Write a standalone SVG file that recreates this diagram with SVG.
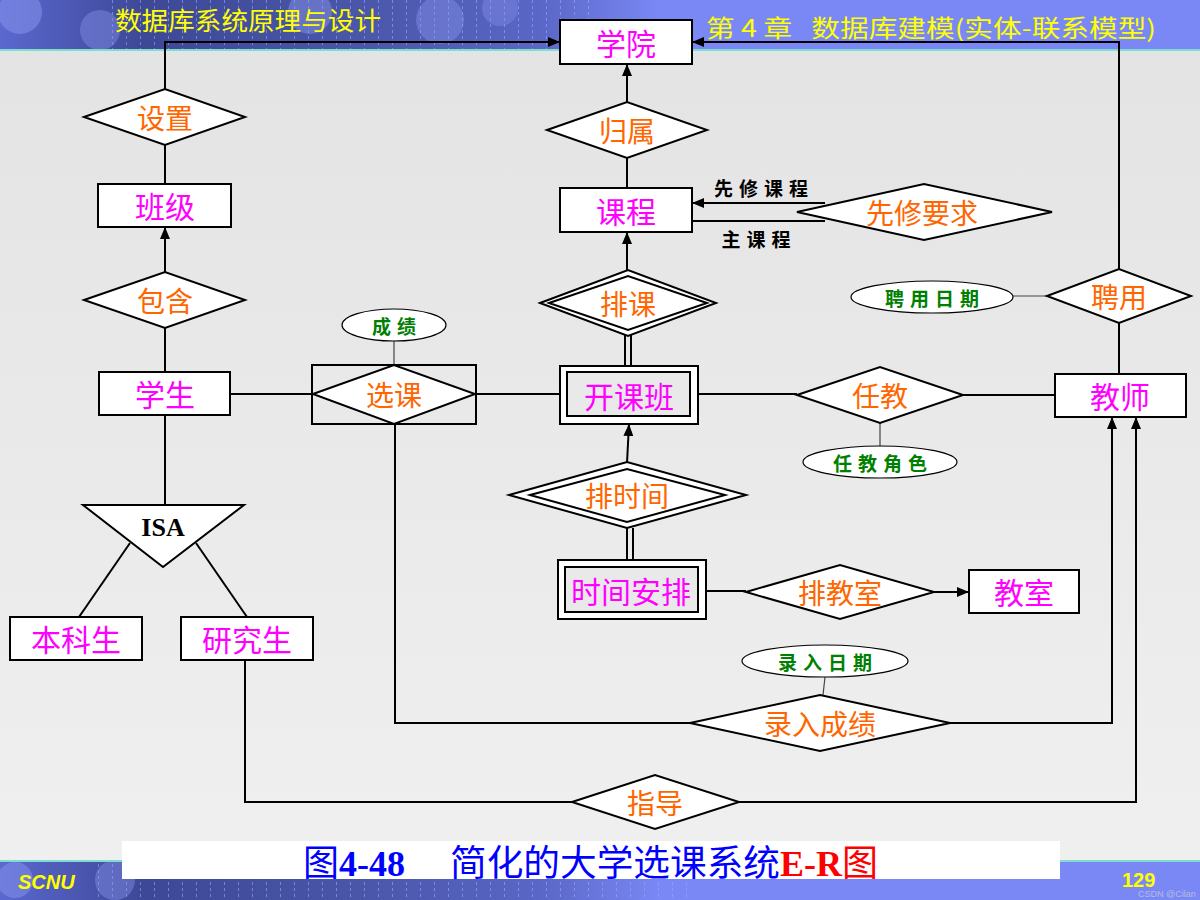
<svg xmlns="http://www.w3.org/2000/svg" width="1200" height="900" viewBox="0 0 1200 900">
<defs>
  <linearGradient id="bg" x1="0" y1="0" x2="0" y2="1">
    <stop offset="0" stop-color="#e3e3e3"/>
    <stop offset="1" stop-color="#f0f0f0"/>
  </linearGradient>
  <linearGradient id="band" x1="0" y1="0" x2="1" y2="0">
    <stop offset="0" stop-color="#5b68cf"/>
    <stop offset="0.12" stop-color="#3d4896"/>
    <stop offset="0.3" stop-color="#4a56a8"/>
    <stop offset="0.45" stop-color="#5a67c6"/>
    <stop offset="0.55" stop-color="#7a88f6"/>
    <stop offset="1" stop-color="#7a88f6"/>
  </linearGradient>
  <marker id="arr" viewBox="0 0 12 10" refX="12" refY="5" markerWidth="12" markerHeight="10" markerUnits="userSpaceOnUse" orient="auto">
    <path d="M0,0 L12,5 L0,10 z" fill="#000"/>
  </marker>
  <pattern id="dash" width="14" height="6" patternUnits="userSpaceOnUse">
    <rect x="0" y="0" width="1" height="3" fill="#9aa6ff" opacity="0.6"/>
  </pattern>
</defs>
<style>
  .ent { fill: #fff; stroke: #000; stroke-width: 2; }
  .ent2 { fill: #e9e9e9; stroke: #000; stroke-width: 2; }
  .rel { fill: #fff; stroke: #000; stroke-width: 2; }
  .att { fill: #fff; stroke: #000; stroke-width: 1.2; }
  .et { font-family: "Noto Sans CJK SC", sans-serif; font-size: 30px; fill: #ff00ff; text-anchor: middle; dominant-baseline: central; }
  .rt { font-family: "Noto Sans CJK SC", sans-serif; font-size: 28px; fill: #ff6600; text-anchor: middle; dominant-baseline: central; }
  .at { font-family: "Noto Sans CJK SC", sans-serif; font-size: 19px; font-weight: bold; fill: #008000; text-anchor: middle; dominant-baseline: central; letter-spacing: 6px; }
  .lt { font-family: "Noto Sans CJK SC", sans-serif; font-size: 19px; font-weight: bold; fill: #000; text-anchor: middle; dominant-baseline: central; letter-spacing: 6px; }
  .ln { fill: none; stroke: #000; stroke-width: 2; }
  .thin { fill: none; stroke: #444; stroke-width: 1.2; }
  .hd { font-family: "Noto Sans CJK SC", sans-serif; fill: #ffff00; }
</style>

<!-- background -->
<rect x="0" y="0" width="1200" height="900" fill="url(#bg)"/>

<!-- header band -->
<g id="header">
  <rect x="0" y="0" width="1200" height="50" fill="url(#band)"/>
  <rect x="100" y="0" width="500" height="50" fill="url(#dash)"/>
  <circle cx="20" cy="12" r="22" fill="#8c98f0" opacity="0.5"/>
  <circle cx="100" cy="30" r="20" fill="#8c98f0" opacity="0.4"/>
  <circle cx="310" cy="12" r="22" fill="#8c98f0" opacity="0.45"/>
  <circle cx="440" cy="20" r="24" fill="#8c98f0" opacity="0.4"/>
  <circle cx="500" cy="8" r="18" fill="#8c98f0" opacity="0.35"/>
  <rect x="0" y="49" width="1200" height="2" fill="#7fdcd0"/>
  <text class="hd" x="115" y="30" font-size="25" textLength="266" lengthAdjust="spacingAndGlyphs">数据库系统原理与设计</text>
  <text class="hd" x="706" y="37" font-size="24" textLength="450" lengthAdjust="spacingAndGlyphs" xml:space="preserve">第 4 章   数据库建模(实体-联系模型)</text>
</g>

<!-- footer band -->
<g id="footer">
  <rect x="0" y="861" width="1200" height="39" fill="url(#band)"/>
  <rect x="90" y="861" width="600" height="39" fill="url(#dash)"/>
  <circle cx="15" cy="880" r="18" fill="#8c98f0" opacity="0.45"/>
  <circle cx="115" cy="880" r="20" fill="#8c98f0" opacity="0.4"/>
  <rect x="0" y="860" width="1200" height="2" fill="#7fdcd0"/>
  <text x="18" y="889" font-family="Liberation Sans, sans-serif" font-size="20" font-weight="bold" font-style="italic" fill="#ffff00">SCNU</text>
  <text x="1122" y="887" font-family="Liberation Sans, sans-serif" font-size="20" font-weight="bold" fill="#ffff00">129</text>
  <text x="1138" y="897" font-family="Liberation Sans, sans-serif" font-size="9" fill="#c8c8d8" opacity="0.8">CSDN @Cilan</text>
</g>

<!-- caption -->
<g id="caption">
  <rect x="122" y="841" width="938" height="38" fill="#fff"/>
  <text x="303" y="876" font-size="36"><tspan font-family="Noto Sans CJK SC, sans-serif" fill="#0000ff">图</tspan><tspan font-family="Liberation Serif, serif" font-weight="bold" fill="#0000ff">4-48</tspan><tspan font-family="Noto Sans CJK SC, sans-serif" fill="#0000ff" x="450" textLength="330" lengthAdjust="spacingAndGlyphs">简化的大学选课系统</tspan><tspan font-family="Liberation Serif, serif" font-weight="bold" fill="#ff0000">E-R</tspan><tspan font-family="Noto Sans CJK SC, sans-serif" fill="#ff0000">图</tspan></text>
</g>

<!-- connectors -->
<g id="connectors">
  <path class="ln" d="M165,89 V42 H560" marker-end="url(#arr)"/>
  <path class="ln" d="M1119,269 V42 H692" marker-end="url(#arr)"/>
  <path class="ln" d="M627,102 V64" marker-end="url(#arr)"/>
  <path class="ln" d="M627,158 V188"/>
  <path class="ln" d="M627,270 V232" marker-end="url(#arr)"/>
  <path class="ln" d="M825,203 H692" marker-end="url(#arr)"/>
  <path class="ln" d="M825,221 H692"/>
  <path class="ln" d="M625,335 V366"/>
  <path class="ln" d="M631,335 V366"/>
  <path class="ln" d="M165,184 V145"/>
  <path class="ln" d="M165,272 V227" marker-end="url(#arr)"/>
  <path class="ln" d="M165,328 V372"/>
  <path class="ln" d="M230,394 H312"/>
  <path class="ln" d="M476,394 H560"/>
  <path class="thin" d="M394,341 V365"/>
  <path class="ln" d="M698,394 H797"/>
  <path class="ln" d="M963,395 H1055"/>
  <path class="thin" d="M880,423 V446"/>
  <path class="ln" d="M1119,323 V374"/>
  <path class="thin" d="M1013,296 H1047"/>
  <path class="ln" d="M627,463 L629,424" marker-end="url(#arr)"/>
  <path class="ln" d="M627,528 V560"/>
  <path class="ln" d="M633,528 V560"/>
  <path class="ln" d="M706,591 H746"/>
  <path class="ln" d="M934,592 H969" marker-end="url(#arr)"/>
  <path class="ln" d="M165,415 V505"/>
  <path class="ln" d="M130,543 L79,617"/>
  <path class="ln" d="M196,543 L247,617"/>
  <path class="ln" d="M245,660 V802 H572"/>
  <path class="ln" d="M739,802 H1136 V417" marker-end="url(#arr)"/>
  <path class="ln" d="M395,424 V723 H690"/>
  <path class="ln" d="M950,723 H1112 V417" marker-end="url(#arr)"/>
  <path class="thin" d="M825,677 L823,695"/>
</g>

<!-- nodes -->
<g id="n-xueyuan"><rect class="ent" x="560" y="20" width="132" height="44"/><text class="et" x="626" y="42">学院</text></g>
<g id="n-guishu"><polygon class="rel" points="547,130 627,102 707,130 627,158"/><text class="rt" x="627" y="130">归属</text></g>
<g id="n-kecheng"><rect class="ent" x="560" y="188" width="132" height="44"/><text class="et" x="626" y="210">课程</text></g>
<g id="n-xianxiu"><polygon class="rel" points="797,212 924,184 1052,212 924,240"/><text class="rt" x="922" y="212">先修要求</text></g>
<g id="lbl-xianxiukecheng"><text class="lt" x="764" y="187">先修课程</text></g>
<g id="lbl-zhukecheng"><text class="lt" x="759" y="238">主课程</text></g>
<g id="n-paike"><polygon class="rel" points="540,303 628,270 716,303 628,336"/><polygon class="rel" points="549,303 628,276 707,303 628,330"/><text class="rt" x="628" y="303">排课</text></g>
<g id="n-banji"><rect class="ent" x="98" y="184" width="133" height="43"/><text class="et" x="165" y="205">班级</text></g>
<g id="n-shezhi"><polygon class="rel" points="84,117 165,89 245,117 165,145"/><text class="rt" x="165" y="117">设置</text></g>
<g id="n-baohan"><polygon class="rel" points="84,300 165,272 245,300 165,328"/><text class="rt" x="165" y="300">包含</text></g>
<g id="n-xuesheng"><rect class="ent" x="99" y="372" width="131" height="43"/><text class="et" x="165" y="393">学生</text></g>
<g id="n-isa"><polygon class="rel" points="83,505 244,505 163,567"/><text x="163" y="536" font-family="Liberation Serif, serif" font-size="26" font-weight="bold" fill="#000" text-anchor="middle">ISA</text></g>
<g id="n-benkesheng"><rect class="ent" x="10" y="617" width="132" height="43"/><text class="et" x="76" y="638">本科生</text></g>
<g id="n-yanjiusheng"><rect class="ent" x="181" y="617" width="132" height="43"/><text class="et" x="247" y="638">研究生</text></g>
<g id="n-xuanke"><rect class="ent2" x="312" y="365" width="164" height="59"/><polygon class="rel" points="313,394 394,365 475,394 394,424"/><text class="rt" x="394" y="394">选课</text></g>
<g id="n-chengji"><ellipse class="att" cx="394" cy="325" rx="52" ry="16"/><text class="at" x="397" y="325">成绩</text></g>
<g id="n-kaikeban"><rect class="ent" x="560" y="366" width="138" height="58"/><rect class="ent2" x="567" y="372" width="123" height="44"/><text class="et" x="629" y="395">开课班</text></g>
<g id="n-renjiao"><polygon class="rel" points="797,395 880,367 963,395 880,423"/><text class="rt" x="880" y="395">任教</text></g>
<g id="n-renjiaojuese"><ellipse class="att" cx="880" cy="462" rx="77" ry="16"/><text class="at" x="883" y="462">任教角色</text></g>
<g id="n-jiaoshi"><rect class="ent" x="1055" y="374" width="131" height="43"/><text class="et" x="1120" y="395">教师</text></g>
<g id="n-pinyong"><polygon class="rel" points="1047,296 1119,269 1191,296 1119,323"/><text class="rt" x="1119" y="296">聘用</text></g>
<g id="n-pinyongriqi"><ellipse class="att" cx="932" cy="297" rx="81" ry="16"/><text class="at" x="935" y="297">聘用日期</text></g>
<g id="n-paishijian"><polygon class="rel" points="509,495 627,462 746,495 627,528"/><polygon class="rel" points="530,495 627,469 725,495 627,522"/><text class="rt" x="627" y="495">排时间</text></g>
<g id="n-shijiananpai"><rect class="ent" x="558" y="560" width="148" height="59"/><rect class="ent2" x="565" y="567" width="133" height="45"/><text class="et" x="631" y="590">时间安排</text></g>
<g id="n-paijiaoshi"><polygon class="rel" points="746,592 840,565 934,592 840,619"/><text class="rt" x="840" y="592">排教室</text></g>
<g id="n-jiaoshi2"><rect class="ent" x="969" y="570" width="110" height="43"/><text class="et" x="1024" y="591">教室</text></g>
<g id="n-luruchengji"><polygon class="rel" points="690,723 820,695 950,723 820,751"/><text class="rt" x="820" y="723">录入成绩</text></g>
<g id="n-luruqiqi"><ellipse class="att" cx="825" cy="661" rx="83" ry="16"/><text class="at" x="828" y="661">录入日期</text></g>
<g id="n-zhidao"><polygon class="rel" points="572,802 655,775 739,802 655,829"/><text class="rt" x="655" y="802">指导</text></g>
</svg>
